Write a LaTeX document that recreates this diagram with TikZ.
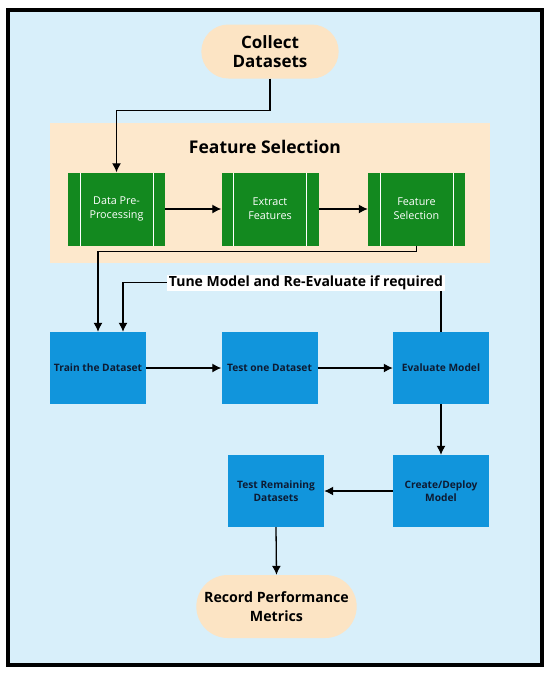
\documentclass[tikz,border=0pt]{standalone}
\usepackage{fontspec}
\setmainfont{Open Sans}
\usetikzlibrary{arrows.meta,shapes.misc,positioning}
\definecolor{bgblue}{HTML}{D8EFFA}
\definecolor{peach}{HTML}{FDE8CC}
\definecolor{ovalpeach}{HTML}{FCE4C4}
\definecolor{gbox}{HTML}{13891F}
\definecolor{bbox}{HTML}{1195DC}
\definecolor{navy}{HTML}{0D1B33}
\tikzset{
  terminal/.style={rounded rectangle, fill=ovalpeach, draw=none, font=\bfseries\fontsize{14.2}{19}\selectfont, align=center, text=black},
  greenbox/.style={rectangle, fill=gbox, draw=none, minimum width=97pt, minimum height=73pt, text=white, align=center, font=\fontsize{10.8}{14}\selectfont,
    path picture={\draw[white, line width=0.8pt] ([xshift=12pt]path picture bounding box.north west) -- ([xshift=12pt]path picture bounding box.south west);
                  \draw[white, line width=0.8pt] ([xshift=-12pt]path picture bounding box.north east) -- ([xshift=-12pt]path picture bounding box.south east);}},
  bluebox/.style={rectangle, fill=bbox, draw=none, minimum width=96pt, minimum height=72pt, text=navy, align=center, font=\bfseries\fontsize{10.2}{13.5}\selectfont},
  arr/.style={-{Latex[length=9pt,width=9pt]}, line width=1.3pt, black},
  plain/.style={line width=1.3pt, black}
}
\begin{document}
\begin{tikzpicture}[x=1pt,y=-1pt]
\useasboundingbox (0,0) rectangle (550,675);
\fill[white] (0,0) rectangle (550,675);
\fill[bgblue] (8,10) rectangle (542,665);
\draw[black, line width=3.5pt] (8,10) rectangle (542,665);
% feature selection panel
\fill[peach] (50,123) rectangle (490,263);
\node[font=\bfseries\fontsize{17.5}{21}\selectfont] (fstitle) at (265,147) {Feature Selection};

\node[terminal, minimum width=144pt, minimum height=54pt, font=\bfseries\fontsize{17}{19}\selectfont] (collect) at (270,51.5) {Collect\\Datasets};

\node[greenbox] (pre) at (116.5,209) {Data Pre-\\Processing};
\node[greenbox] (ext) at (270,209) {Extract\\Features};
\node[greenbox] (fs) at (416.5,209) {Feature\\Selection};

\node[bluebox] (train) at (98,368) {Train the Dataset};
\node[bluebox] (test1) at (269.5,368) {Test one Dataset};
\node[bluebox] (eval) at (441,368) {Evaluate Model};
\node[bluebox] (create) at (441,491) {Create/Deploy\\Model};
\node[bluebox] (testrem) at (276,491) {Test Remaining\\Datasets};

\node[terminal, minimum width=167pt, minimum height=63pt] (record) at (276.5,606.5) {Record Performance\\Metrics};

% connectors
\draw[arr] (collect.south) -- ++(0,31.5) -| (pre.north);
\draw[arr] (pre.east) -- (ext.west);
\draw[arr] (ext.east) -- (fs.west);
\draw[arr] (fs.south) -- ++(0,6) -| (train.north);
\draw[arr] (eval.north) |- ++(-318,-49) -- ([xshift=25pt]train.north);
\node[fill=white, inner xsep=2pt, inner ysep=1pt, font=\bfseries\fontsize{14}{17}\selectfont] (tune) at (306,283) {Tune Model and Re-Evaluate if required};
\draw[arr] (train.east) -- (test1.west);
\draw[arr] (test1.east) -- (eval.west);
\draw[arr] (eval.south) -- (create.north);
\draw[arr] (create.west) -- (testrem.east);
\draw[arr] (testrem.south) -- (record.north);
\end{tikzpicture}
\end{document}
